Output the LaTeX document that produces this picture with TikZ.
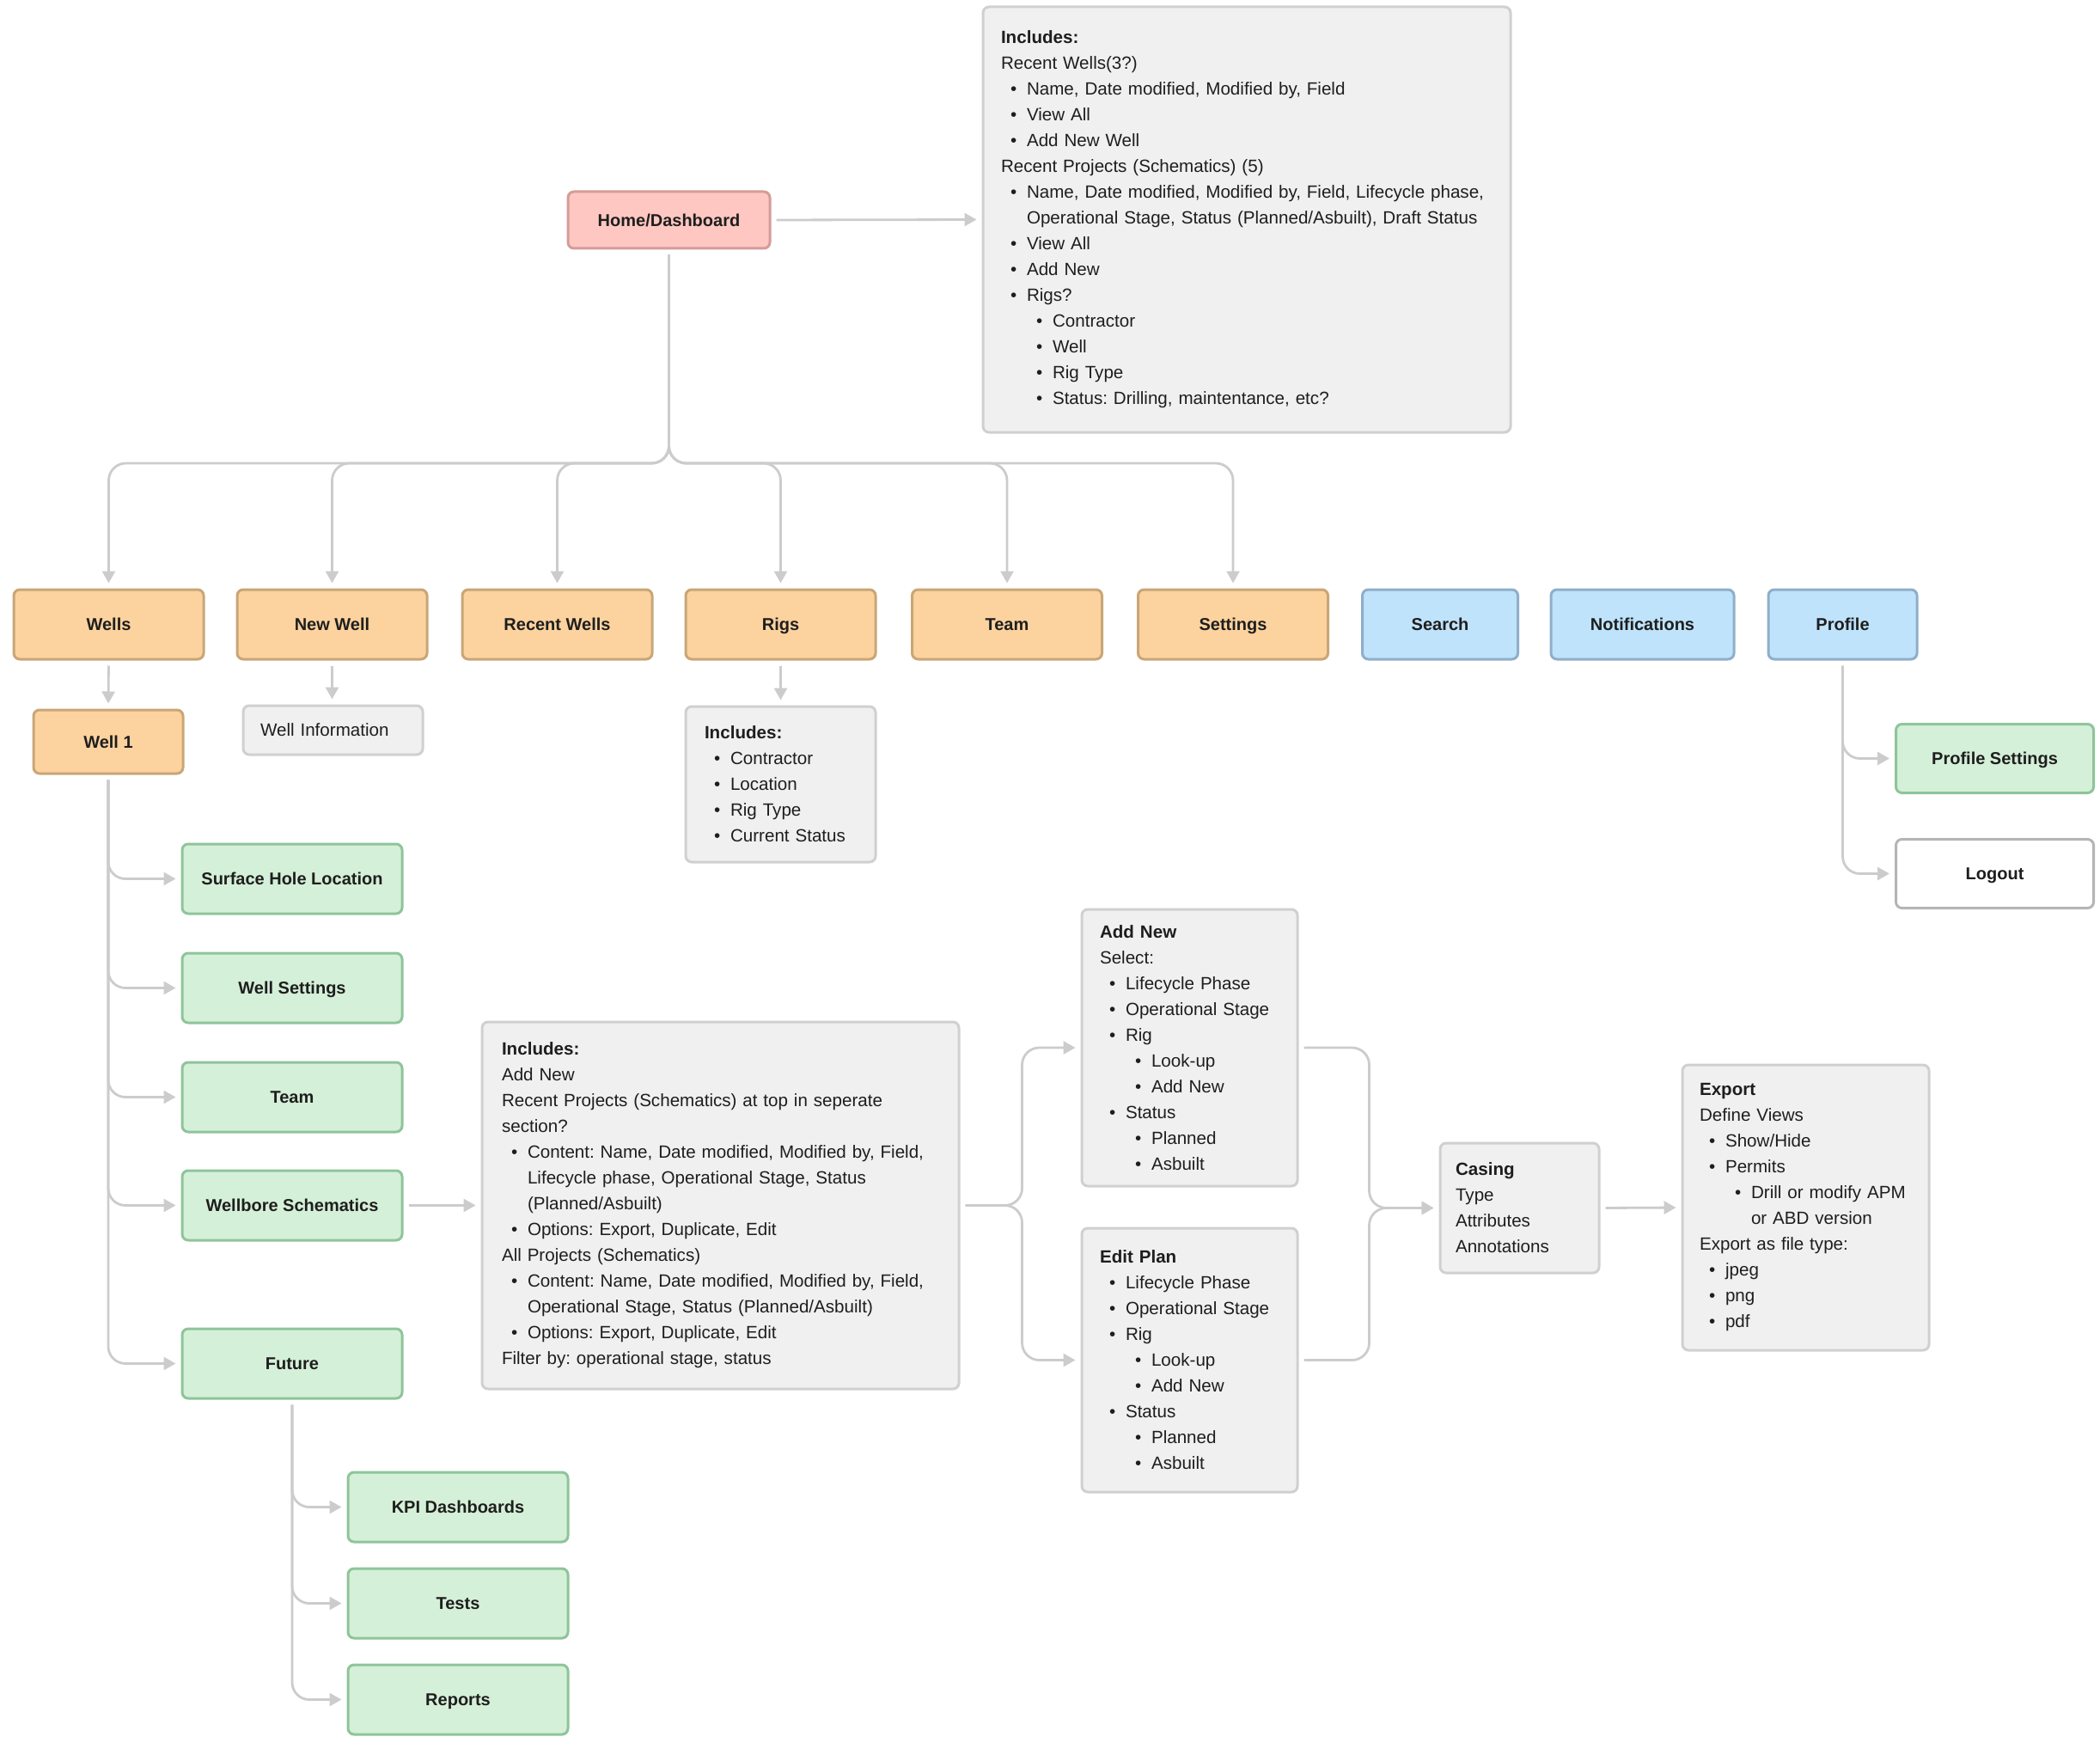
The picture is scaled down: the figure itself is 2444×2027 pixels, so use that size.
\documentclass[tikz,border=0pt]{standalone}
\usepackage{fontspec}
\setmainfont{Liberation Sans}
\usetikzlibrary{arrows.meta}
\definecolor{ofill}{HTML}{FCD29E}
\definecolor{oline}{HTML}{C9A677}
\definecolor{pfill}{HTML}{FFC7C2}
\definecolor{pline}{HTML}{D49C98}
\definecolor{bfill}{HTML}{BFE3FB}
\definecolor{bline}{HTML}{8FAECA}
\definecolor{gfill}{HTML}{D5F0D8}
\definecolor{gline}{HTML}{8FC49A}
\definecolor{ifill}{HTML}{F0F0F0}
\definecolor{iline}{HTML}{D0D0D0}
\definecolor{lline}{HTML}{B5B5B5}
\definecolor{cline}{HTML}{CCCCCC}
\definecolor{txt}{HTML}{1E1E1E}
\newcommand{\bulA}{\hspace*{5.5pt}\makebox[9.5pt][l]{\textbullet}}
\newcommand{\bulB}{\hspace*{20.5pt}\makebox[9.5pt][l]{\textbullet}}
\newcommand{\indA}{\hspace*{15pt}}
\newcommand{\indB}{\hspace*{30pt}}
\tikzset{
 lbl/.style={draw, line width=1.5pt, rounded corners=3.5pt, text=txt, font=\bfseries\fontsize{10}{12}\selectfont, align=center, inner sep=2pt, text height=8.2pt, text depth=1pt},
 obox/.style={lbl, fill=ofill, draw=oline, minimum width=110.5pt, minimum height=40.5pt},
 bbox/.style={lbl, fill=bfill, draw=bline, minimum height=40.5pt},
 gbox/.style={lbl, fill=gfill, draw=gline, minimum width=128pt, minimum height=40.5pt},
 info/.style={draw=iline, fill=ifill, line width=1.5pt, rounded corners=3.5pt, text=txt, align=left, font=\frenchspacing\fontsize{10.3}{15}\selectfont, inner ysep=0pt},
 conn/.style={draw=cline, line width=1.4pt, -{Triangle[length=7pt,width=7.5pt]}, rounded corners=10pt, shorten >=3pt, shorten <=3pt},
}
\frenchspacing
\begin{document}
\begin{tikzpicture}[x=0.5pt,y=-0.5pt]
\fill[white] (0,0) rectangle (2444,2027);
\useasboundingbox (0,0) rectangle (2444,2027);

% top
\node[lbl, fill=pfill, draw=pline, minimum width=117.5pt, minimum height=33pt] (home) at (778.5,256) {Home/Dashboard};
\node[info, minimum width=307pt, minimum height=247.5pt, text width=286pt, inner xsep=10.5pt] (inc1) at (1451,255.5) {%
\textbf{Includes:}\\
Recent Wells(3?)\\
\bulA Name, Date modified, Modified by, Field\\
\bulA View All\\
\bulA Add New Well\\
Recent Projects (Schematics) (5)\\
\bulA Name, Date modified, Modified by, Field, Lifecycle phase,\\
\indA Operational Stage, Status (Planned/Asbuilt), Draft Status\\
\bulA View All\\
\bulA Add New\\
\bulA Rigs?\\
\bulB Contractor\\
\bulB Well\\
\bulB Rig Type\\
\bulB Status: Drilling, maintentance, etc?};

% row
\node[obox] (wells) at (126.5,726.5) {Wells};
\node[obox] (newwell) at (386.5,726.5) {New Well};
\node[obox] (recent) at (648.5,726.5) {Recent Wells};
\node[obox] (rigs) at (908.5,726.5) {Rigs};
\node[obox] (team) at (1172,726.5) {Team};
\node[obox] (settings) at (1435,726.5) {Settings};
\node[bbox, minimum width=90.5pt] (search) at (1676,726.5) {Search};
\node[bbox, minimum width=106.5pt] (notif) at (1911.5,726.5) {Notifications};
\node[bbox, minimum width=86.5pt] (profile) at (2144.5,726.5) {Profile};

% second level
\node[lbl, fill=ofill, draw=oline, minimum width=87pt, minimum height=37pt] (well1) at (126,863) {Well 1};
\node[info, minimum width=104.5pt, minimum height=28.5pt, text width=84.5pt, inner xsep=10pt] (winfo) at (387.5,849.5) {Well Information};
\node[info, minimum width=110.5pt, minimum height=90.5pt, text width=88.5pt, inner xsep=11pt] (inc2) at (908.5,912.5) {%
\textbf{Includes:}\\
\bulA Contractor\\
\bulA Location\\
\bulA Rig Type\\
\bulA Current Status};

\node[gbox] (shl) at (340,1022.5) {Surface Hole Location};
\node[gbox] (wset) at (340,1149.5) {Well Settings};
\node[gbox] (wteam) at (340,1276.5) {Team};
\node[gbox] (wbs) at (340,1402.5) {Wellbore Schematics};
\node[gbox] (future) at (340,1586.5) {Future};
\node[gbox] (kpi) at (533,1753.5) {KPI Dashboards};
\node[gbox] (tests) at (533,1865.5) {Tests};
\node[gbox] (reports) at (533,1977.5) {Reports};

\node[info, minimum width=277.5pt, minimum height=213.5pt, text width=254.5pt, inner xsep=11.5pt] (inc3) at (838.5,1402.5) {%
\textbf{Includes:}\\
Add New\\
Recent Projects (Schematics) at top in seperate\\
section?\\
\bulA Content: Name, Date modified, Modified by, Field,\\
\indA Lifecycle phase, Operational Stage, Status\\
\indA (Planned/Asbuilt)\\
\bulA Options: Export, Duplicate, Edit\\
All Projects (Schematics)\\
\bulA Content: Name, Date modified, Modified by, Field,\\
\indA Operational Stage, Status (Planned/Asbuilt)\\
\bulA Options: Export, Duplicate, Edit\\
Filter by: operational stage, status};

\node[info, minimum width=125.5pt, minimum height=161pt, text width=104.5pt, inner xsep=10.5pt] (addn) at (1384.5,1219) {%
\textbf{Add New}\\
Select:\\
\bulA Lifecycle Phase\\
\bulA Operational Stage\\
\bulA Rig\\
\bulB Look-up\\
\bulB Add New\\
\bulA Status\\
\bulB Planned\\
\bulB Asbuilt};

\node[info, minimum width=125.5pt, minimum height=153.5pt, text width=104.5pt, inner xsep=10.5pt] (editp) at (1384.5,1582.5) {%
\textbf{Edit Plan}\\
\bulA Lifecycle Phase\\
\bulA Operational Stage\\
\bulA Rig\\
\bulB Look-up\\
\bulB Add New\\
\bulA Status\\
\bulB Planned\\
\bulB Asbuilt};

\node[info, minimum width=92.5pt, minimum height=75.5pt, text width=74.5pt, inner xsep=9pt] (casing) at (1768.5,1405.5) {%
\textbf{Casing}\\
Type\\
Attributes\\
Annotations};

\node[info, minimum width=143.5pt, minimum height=166pt, text width=123.5pt, inner xsep=10pt] (export) at (2101.5,1405) {%
\textbf{Export}\\
Define Views\\
\bulA Show/Hide\\
\bulA Permits\\
\bulB Drill or modify APM\\
\indB or ABD version\\
Export as file type:\\
\bulA jpeg\\
\bulA png\\
\bulA pdf};

\node[lbl, fill=gfill, draw=gline, minimum width=115pt, minimum height=40pt] (pset) at (2321.5,882.5) {Profile Settings};
\node[lbl, fill=white, draw=lline, minimum width=115pt, minimum height=40pt] (logout) at (2321.5,1016.5) {Logout};

% connectors
\draw[conn] (home.east) -- (inc1.west);
\coordinate (bus) at (778.5,539);
\foreach \n in {wells,newwell,recent,rigs,team,settings}
  \draw[conn] (home.south) -- (bus) -| (\n.north);
\draw[conn] (wells.south) -- (well1.north);
\draw[conn] (newwell.south) -- (newwell.south |- winfo.north);
\draw[conn] (rigs.south) -- (inc2.north);
\foreach \n in {shl,wset,wteam,wbs,future}
  \draw[conn] (well1.south) |- (\n.west);
\draw[conn] (wbs.east) -- (inc3.west);
\foreach \n in {kpi,tests,reports}
  \draw[conn] (future.south) |- (\n.west);
\draw[conn] (inc3.east) -- ++(36pt,0) |- (addn.west);
\draw[conn] (inc3.east) -- ++(36pt,0) |- (editp.west);
\draw[conn] (addn.east) -- ++(41pt,0) |- (casing.west);
\draw[conn] (editp.east) -- ++(41pt,0) |- (casing.west);
\draw[conn] (casing.east) -- (export.west);
\foreach \n in {pset,logout}
  \draw[conn] (profile.south) |- (\n.west);
\end{tikzpicture}
\end{document}
